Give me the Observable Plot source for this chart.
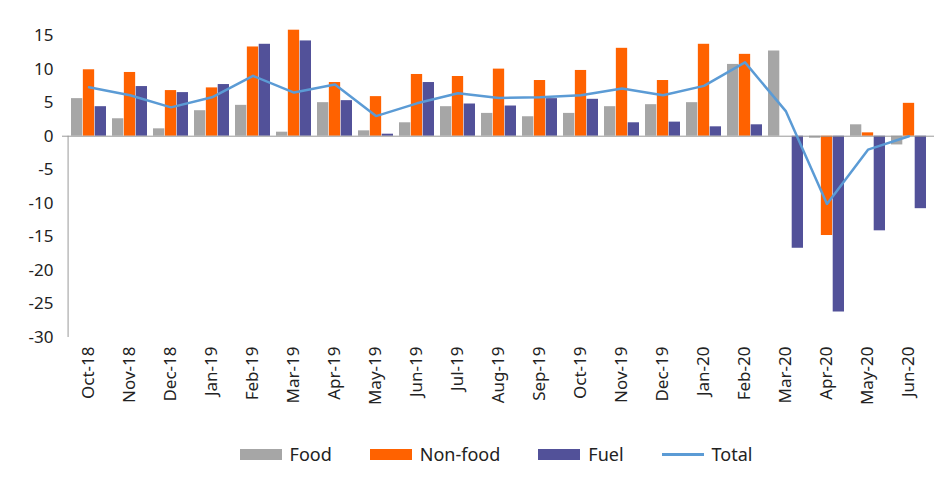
<!DOCTYPE html>
<html><head>
<script src="https://cdn.jsdelivr.net/npm/d3@7"></script>
<script src="https://cdn.jsdelivr.net/npm/@observablehq/plot@0.6"></script>
<style>
body{margin:0;background:#fff;font-family:"Noto Sans",sans-serif;}
.legend{display:flex;justify-content:center;gap:38px;font-size:18px;color:#222;margin-top:10px;padding-left:40px}
.legend span{display:flex;align-items:center;gap:8px}
.sw{display:inline-block;width:42px;height:11px}
.ln{display:inline-block;width:42px;height:3px}
</style></head><body>
<div id="chart"></div>
<div class="legend">
<span><i class="sw" style="background:#a6a6a6"></i>Food</span>
<span><i class="sw" style="background:#ff6200"></i>Non-food</span>
<span><i class="sw" style="background:#525199"></i>Fuel</span>
<span><i class="ln" style="background:#5b9bd5"></i>Total</span>
</div>
<script>
const months=["Oct-18","Nov-18","Dec-18","Jan-19","Feb-19","Mar-19","Apr-19","May-19","Jun-19","Jul-19","Aug-19","Sep-19","Oct-19","Nov-19","Dec-19","Jan-20","Feb-20","Mar-20","Apr-20","May-20","Jun-20"];
const food=[5.6,2.6,1.1,3.8,4.6,0.6,5.0,0.8,2.0,4.4,3.4,2.9,3.4,4.4,4.7,5.0,10.7,12.7,-0.3,1.7,-1.3];
const nonfood=[9.9,9.5,6.8,7.2,13.3,15.8,8.0,5.9,9.2,8.9,10.0,8.3,9.8,13.1,8.3,13.7,12.2,0,-14.8,0.5,4.9];
const fuel=[4.4,7.4,6.5,7.7,13.7,14.2,5.3,0.3,8.0,4.8,4.5,5.6,5.5,2.0,2.1,1.4,1.7,-16.7,-26.2,-14.1,-10.8];
const total=[7.3,6.1,4.3,5.8,9.0,6.5,7.7,3.0,4.9,6.4,5.7,5.8,6.1,7.1,6.1,7.5,11.0,3.7,-10.1,-2.0,0];
const yTicks=[15,10,5,0,-5,-10,-15,-20,-25,-30];
const data=months.map((m,i)=>({m,food:food[i],nonfood:nonfood[i],fuel:fuel[i],total:total[i]}));
const W=952,mL=62,mR=18,pad=0.15;
const step=(W-mL-mR)/(months.length-pad*2+pad) ; 
const bw=step*(1-pad), b=bw/3;
const chart=Plot.plot({
  width:W,height:432,marginLeft:mL,marginRight:mR,marginTop:25,marginBottom:95,
  style:{fontSize:"17px",fontFamily:"Noto Sans, sans-serif",color:"#222"},
  x:{domain:months,padding:pad,label:null,tickRotate:-90,tickSize:0,tickPadding:9},
  y:{domain:[-30,16.5],ticks:yTicks,label:null,tickSize:0,tickFormat:d=>d},
  marks:[
    Plot.barY(data,{x:"m",y:"food",fill:"#a6a6a6",insetRight:2*b}),
    Plot.barY(data,{x:"m",y:"nonfood",fill:"#ff6200",insetLeft:b,insetRight:b}),
    Plot.barY(data,{x:"m",y:"fuel",fill:"#525199",insetLeft:2*b}),
    Plot.ruleY([0],{stroke:"#999"}),
    Plot.line(data,{x:"m",y:"total",stroke:"#5b9bd5",strokeWidth:2.5}),
    Plot.ruleX([months[0]],{dx:-step/2,y1:-30,y2:0,stroke:"#999"})
  ]
});
document.getElementById("chart").append(chart);
</script></body></html>
